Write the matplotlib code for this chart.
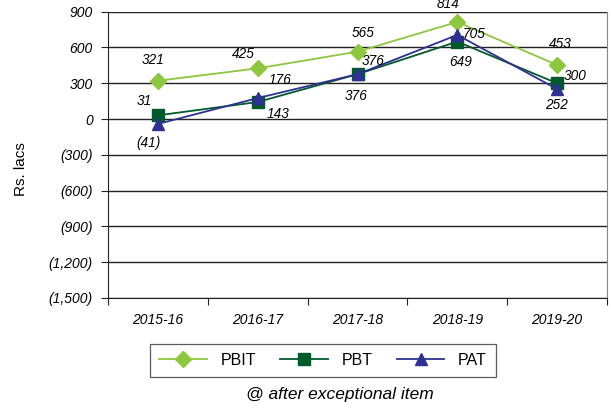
import matplotlib
matplotlib.use("Agg")
import matplotlib.pyplot as plt
from matplotlib.ticker import FuncFormatter

categories = ["2015-16", "2016-17", "2017-18", "2018-19", "2019-20"]
pbit = [321, 425, 565, 814, 453]
pbt = [31, 143, 376, 649, 300]
pat = [-41, 176, 376, 705, 252]
yticks = [900, 600, 300, 0, -300, -600, -900, -1200, -1500]

plt.rcParams['font.family'] = ['Liberation Sans', 'DejaVu Sans']

fig = plt.figure(figsize=(6.11, 4.08), dpi=100)
ax = fig.add_axes([108/611, 1-298/408, 499/611, (298-11.7)/408])

x = list(range(len(categories)))
c_pbit, c_pbt, c_pat = "#8DC63F", "#005A2B", "#2E3192"
ax.plot(x, pbit, color=c_pbit, marker="D", markersize=8, lw=1.3, label="PBIT", zorder=3)
ax.plot(x, pbt, color=c_pbt, marker="s", markersize=8, lw=1.3, label="PBT", zorder=4)
ax.plot(x, pat, color=c_pat, marker="^", markersize=8.5, lw=1.3, label="PAT", zorder=5)

def fmt(v):
    s = f"{abs(int(v)):,}"
    return f"({s})" if v < 0 else s

off_pbit = [(-5, 21), (-14, 14), (6, 19), (-9, 18), (3, 21)]
off_pbt = [(-14, 14), (20, -12), (-1, -22), (3, -20), (18, 7)]
off_pat = [(-9, -19), (22, 18), (16, 13), (17, 1), (-1, -16)]
for vals, offs in ((pbit, off_pbit), (pbt, off_pbt), (pat, off_pat)):
    for xi, v, (dx, dy) in zip(x, vals, offs):
        ax.annotate(fmt(v), (xi, v), xytext=(dx, dy), textcoords="offset pixels",
                    ha="center", va="center", fontsize=9.8, style="italic",
                    zorder=6, annotation_clip=False)

ax.set_xlim(-0.5, len(categories) - 0.5)
ax.set_ylim(-1500, 900)
ax.set_yticks(yticks)
ax.yaxis.set_major_formatter(FuncFormatter(lambda v, p: fmt(v)))
ax.set_xticks([i - 0.5 for i in range(len(categories) + 1)])
ax.set_xticklabels([])
ax.set_xticks(x, minor=True)
ax.set_xticklabels(categories, minor=True)
for lab in ax.get_xticklabels(minor=True) + ax.get_yticklabels():
    lab.set_fontstyle("italic")
    lab.set_fontsize(10)
ax.tick_params(axis="x", which="minor", length=0, pad=11)
ax.tick_params(axis="x", which="major", length=5, direction="out", color="#222222")
ax.tick_params(axis="y", length=5, direction="out", color="#222222", pad=6)

ax.grid(axis="y", color="#222222", lw=1.0)
ax.set_axisbelow(True)
ax.spines["top"].set_visible(False)
ax.spines["right"].set_color("#888888")
ax.spines["left"].set_color("#222222")
ax.spines["bottom"].set_color("#222222")

fig.text(21/611, 1-169/408, "Rs. lacs", rotation=90, ha="center", va="center", fontsize=11)

leg = fig.legend(loc="center", bbox_to_anchor=(323/611, 1-360.5/408), ncol=3,
                 frameon=True, fancybox=False, edgecolor="#333333", fontsize=11.5,
                 handlelength=3.0, handletextpad=0.85, columnspacing=1.5,
                 borderpad=0.55, borderaxespad=0)
leg.get_frame().set_linewidth(0.9)

fig.text(340/611, 1-394/408, "@ after exceptional item", ha="center", va="center",
         fontsize=12.5, style="italic")

fig.savefig("out.png", dpi=100)
